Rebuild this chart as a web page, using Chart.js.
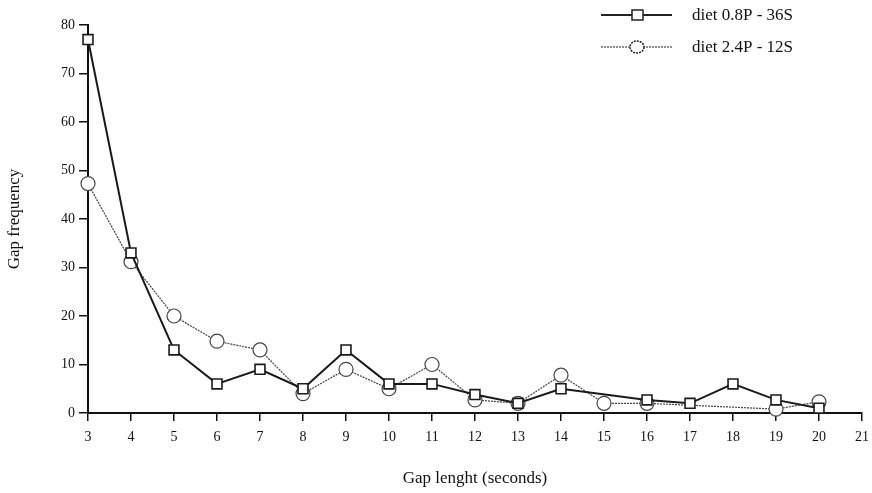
<!DOCTYPE html>
<html>
<head>
<meta charset="utf-8">
<script src="https://cdn.jsdelivr.net/npm/chart.js@4/dist/chart.umd.min.js"></script>
<style>
  html, body { margin: 0; padding: 0; background: #fff; }
  #wrap { width: 872px; height: 493px; }
</style>
</head>
<body>
<div id="wrap"><canvas id="gapChart" width="872" height="493"></canvas></div>
<script>
// values
const gapLength = [3, 4, 5, 6, 7, 8, 9, 10, 11, 12, 13, 14, 15, 16, 17, 18, 19, 20];
const diet08P = [77, 33, 13, 6, 9, 5, 13, 6, 6, 3.8, 2, 5, null, 2.7, 2, 6, 2.7, 1];
const diet24P = [47.3, 31.2, 20, 14.8, 13, 4, 9, 5, 10, 2.7, 2, 7.8, 2, 2, null, null, 0.8, 2.3];
const seriesNames = ['diet 0.8P - 36S', 'diet 2.4P - 12S'];
const yTicks = [0, 10, 20, 30, 40, 50, 60, 70, 80];

const serif = "'Liberation Serif', 'DejaVu Serif', serif";

function toPoints(values) {
    let pts = [];
    values.forEach((v, i) => {
        if (v !== null) pts.push({ x: gapLength[i], y: v });
    });
    return pts;
}

// legend drawn by hand: line + marker + label, like the printed figure
const handLegend = {
    id: 'handLegend',
    afterDraw(chart) {
        const ctx = chart.ctx;
        const rows = [15, 47];
        chart.data.datasets.forEach((ds, i) => {
            const y = rows[i];
            ctx.save();
            ctx.strokeStyle = '#222';
            ctx.lineWidth = ds.borderWidth;
            ctx.setLineDash(ds.borderDash || []);
            ctx.beginPath();
            ctx.moveTo(601, y);
            ctx.lineTo(672, y);
            ctx.stroke();
            ctx.setLineDash(i === 1 ? [2, 1] : []);
            ctx.fillStyle = '#fff';
            ctx.lineWidth = 1.5;
            if (ds.pointStyle === 'rect') {
                ctx.fillRect(632, y - 5, 11, 10);
                ctx.strokeRect(632, y - 5, 11, 10);
            } else {
                ctx.beginPath();
                ctx.ellipse(637, y, 7, 6, 0, 0, Math.PI * 2);
                ctx.fill();
                ctx.stroke();
            }
            ctx.setLineDash([]);
            ctx.fillStyle = '#111';
            ctx.font = '17px ' + serif;
            ctx.textBaseline = 'middle';
            ctx.fillText(ds.label, 692, y + 1);
            ctx.restore();
        });
    }
};

window.onload = function() {
    const ctx = document.getElementById('gapChart').getContext('2d');
    new Chart(ctx, {
        type: 'line',
        data: {
            datasets: [
                {
                    label: seriesNames[0],
                    data: toPoints(diet08P),
                    clip: false,
                    borderColor: '#1a1a1a',
                    borderWidth: 2,
                    pointStyle: 'rect',
                    pointRadius: 7,
                    pointBorderWidth: 1.6,
                    pointBackgroundColor: '#fff',
                    pointBorderColor: '#1a1a1a',
                    tension: 0
                },
                {
                    label: seriesNames[1],
                    data: toPoints(diet24P),
                    clip: false,
                    borderColor: '#444',
                    borderWidth: 1.2,
                    borderDash: [2, 1],
                    pointStyle: 'circle',
                    pointRadius: 7,
                    pointBorderWidth: 1.2,
                    pointBackgroundColor: '#fff',
                    pointBorderColor: '#444',
                    tension: 0
                }
            ]
        },
        options: {
            responsive: false,
            animation: false,
            layout: { padding: { top: 25, right: 10, left: 0, bottom: 0 } },
            plugins: {
                legend: { display: false },
                tooltip: { enabled: false }
            },
            scales: {
                x: {
                    type: 'linear',
                    min: 3,
                    max: 21,
                    afterFit: s => { s.height = 80; s.paddingLeft = 0; s.paddingRight = 0; },
                    ticks: { stepSize: 1, color: '#111', padding: 8, font: { family: serif, size: 14 } },
                    grid: { drawOnChartArea: false, tickLength: 8, color: '#111', lineWidth: 1.5 },
                    border: { color: '#111', width: 2 },
                    title: { display: true, text: 'Gap lenght (seconds)', color: '#111', font: { family: serif, size: 17 }, padding: { top: 22 } }
                },
                y: {
                    min: 0,
                    max: 80,
                    afterFit: s => { s.width = 88; s.paddingTop = 0; s.paddingBottom = 0; },
                    afterBuildTicks: s => { s.ticks = yTicks.map(v => ({ value: v })); },
                    ticks: { color: '#111', padding: 4, font: { family: serif, size: 14 } },
                    grid: { drawOnChartArea: false, tickLength: 9, color: '#111', lineWidth: 1.5 },
                    border: { color: '#111', width: 2 },
                    title: { display: true, text: 'Gap frequency', color: '#111', font: { family: serif, size: 17 }, padding: { bottom: 8 } }
                }
            }
        },
        plugins: [handLegend]
    });
};
</script>
</body>
</html>
